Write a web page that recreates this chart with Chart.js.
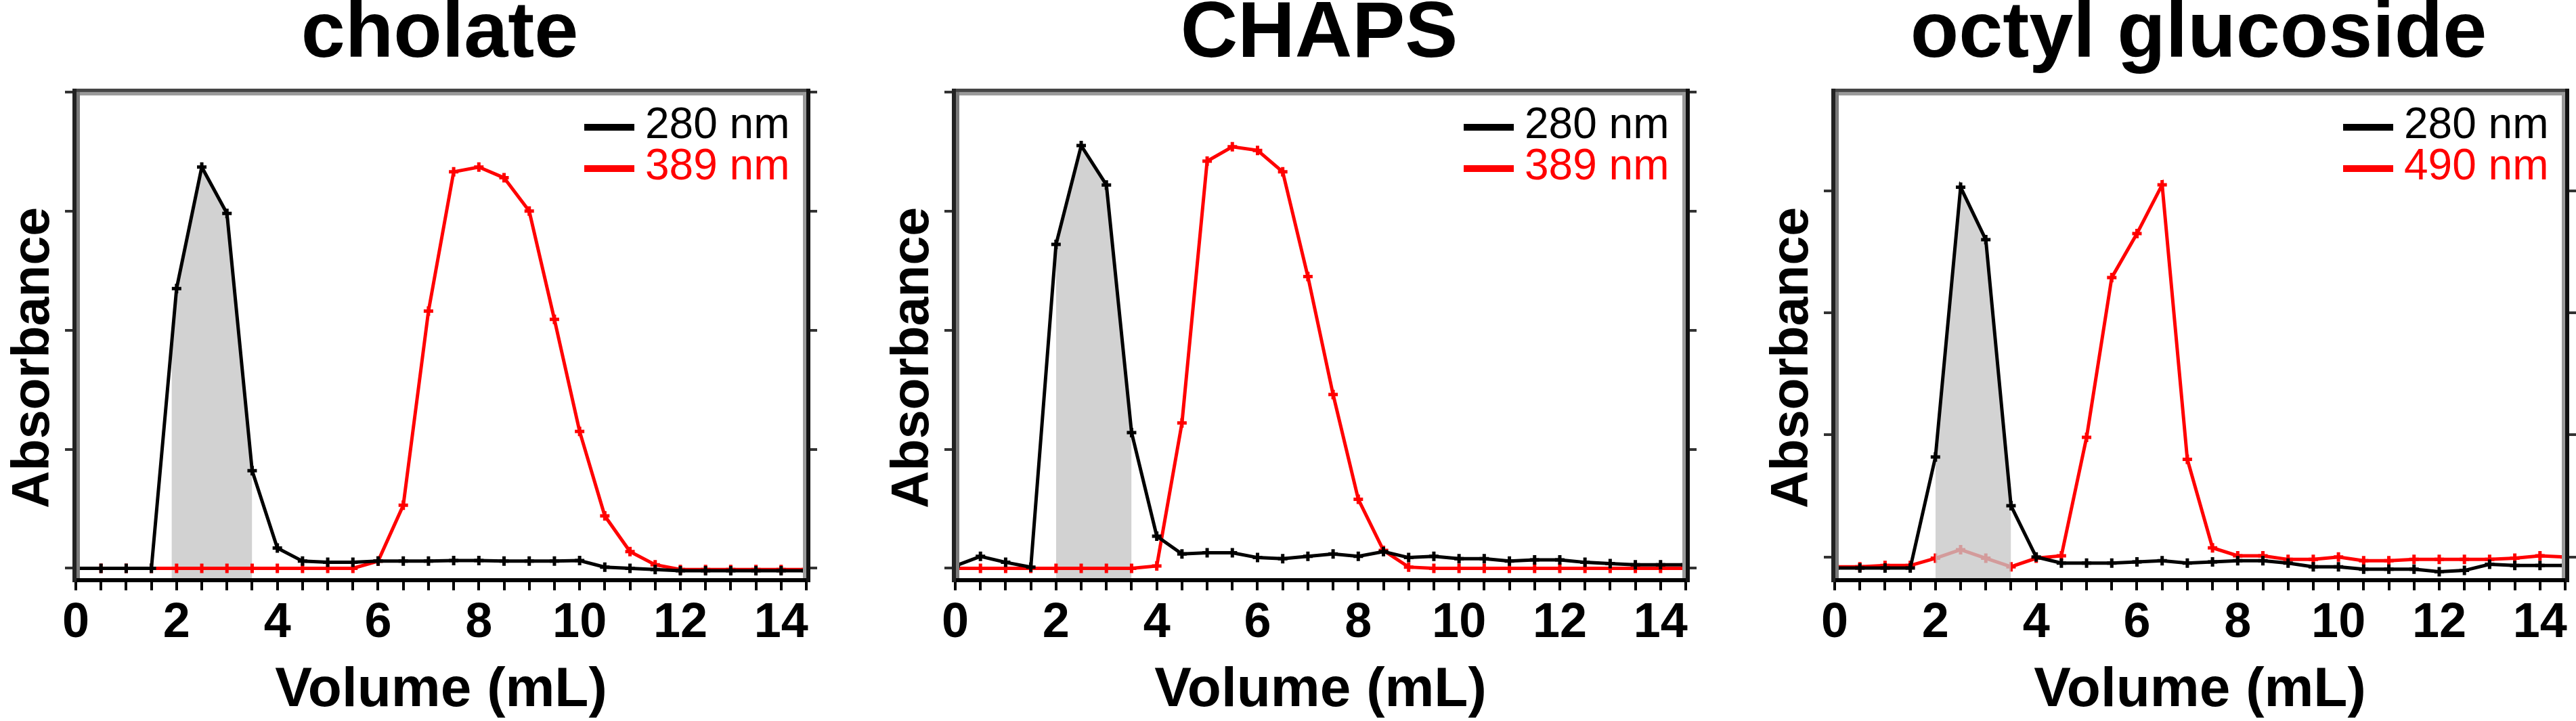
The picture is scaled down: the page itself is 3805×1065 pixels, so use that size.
<!DOCTYPE html>
<html><head><meta charset="utf-8"><title>Absorbance vs elution volume</title>
<script src="https://cdn.jsdelivr.net/npm/chart.js@4.4.1/dist/chart.umd.min.js"></script>
<style>
html,body{margin:0;padding:0;background:#fff}
body{position:relative;width:3805px;height:1065px;overflow:hidden}
.panel{position:absolute;top:0;width:1299px;height:1065px}
canvas{display:block}
</style></head><body>
<div class="panel" style="left:0px"><canvas id="p0" width="1299" height="1065"></canvas></div>
<div class="panel" style="left:1299px"><canvas id="p1" width="1299" height="1065"></canvas></div>
<div class="panel" style="left:2598px"><canvas id="p2" width="1299" height="1065"></canvas></div>
<script>
// ---------- data ----------
const volume = [0,0.5,1,1.5,2,2.5,3,3.5,4,4.5,5,5.5,6,6.5,7,7.5,8,8.5,9,9.5,10,10.5,11,11.5,12,12.5,13,13.5,14,14.5];
const panelTitles = ['cholate', 'CHAPS', 'octyl glucoside'];
const label280 = '280 nm';
const secondLabels = ['389 nm', '389 nm', '490 nm'];
const xTitle = 'Volume (mL)';
const yTitle = 'Absorbance';
const xTickValues = [0,2,4,6,8,10,12,14];
const xTickLabels = ['0','2','4','6','8','10','12','14'];
const xMax = 14.5;
const yMin = [-0.1, -0.1, -0.19];
const yMax = [4.0, 4.0, 3.81];
const yTickValues = [[0,1,2,3,4],[0,1,2,3,4],[0,1,2,3]];
const shadeStart = [1.9, 2.0, 2.0];
const shadeEnd = [3.5, 3.5, 3.5];

const cholate280 = [0,0,0,0,2.35,3.37,2.98,0.82,0.17,0.06,0.05,0.05,0.06,0.06,0.06,0.065,0.065,0.06,0.06,0.06,0.065,0.01,0,-0.01,-0.02,-0.02,-0.02,-0.02,-0.02,-0.02];
const cholate389 = [0,0,0,0,0,0,0,0,0,0,0,0,0.06,0.53,2.16,3.33,3.37,3.28,3.0,2.09,1.15,0.44,0.14,0.03,-0.01,-0.01,-0.01,-0.01,-0.01,-0.01];
const chaps280 = [0.02,0.1,0.05,0.01,2.72,3.55,3.22,1.14,0.27,0.12,0.13,0.13,0.09,0.08,0.1,0.12,0.1,0.14,0.09,0.1,0.08,0.08,0.06,0.07,0.07,0.05,0.04,0.03,0.03,0.03];
const chaps389 = [0,0,0,0,0,0,0,0,0.02,1.22,3.42,3.54,3.51,3.33,2.45,1.46,0.58,0.15,0.01,0,0,0,0,0,0,0,0,0,0,0];
const octyl280 = [-0.09,-0.09,-0.09,-0.09,0.82,3.03,2.60,0.42,0.0,-0.05,-0.05,-0.05,-0.04,-0.03,-0.05,-0.04,-0.03,-0.03,-0.05,-0.08,-0.08,-0.1,-0.1,-0.1,-0.12,-0.11,-0.06,-0.07,-0.07,-0.07];
const octyl490 = [-0.08,-0.08,-0.07,-0.07,-0.01,0.06,-0.01,-0.08,-0.01,0.01,0.98,2.29,2.65,3.05,0.80,0.075,0.01,0.01,-0.02,-0.02,0,-0.03,-0.03,-0.02,-0.02,-0.02,-0.02,-0.01,0.01,0];

const series280 = [cholate280, chaps280, octyl280];
const seriesSecond = [cholate389, chaps389, octyl490];

// ---------- helpers ----------
const FONT = '"Liberation Sans", Arial, Helvetica, sans-serif';

function valueAt(xs, ys, x) {
  for (let k = 0; k < xs.length - 1; k++) {
    if (x >= xs[k] && x <= xs[k + 1]) {
      const t = (x - xs[k]) / (xs[k + 1] - xs[k]);
      return ys[k] + t * (ys[k + 1] - ys[k]);
    }
  }
  return ys[ys.length - 1];
}
function shadeSeries(xs, ys, from, to) {
  const pts = [{x: from, y: valueAt(xs, ys, from)}];
  xs.forEach((x, k) => { if (x > from && x < to) pts.push({x: x, y: ys[k]}); });
  pts.push({x: to, y: valueAt(xs, ys, to)});
  return pts;
}
const toPoints = ys => volume.map((v, k) => ({x: v, y: ys[k]}));

const framePlugin = {
  id: 'frameBox',
  afterDatasetsDraw(chart) {
    const {ctx, chartArea: {left, right, top, bottom}} = chart;
    ctx.save();
    ctx.fillStyle = '#000';
    ctx.fillRect(left - 5, bottom - 3, right - left + 10, 6);
    ctx.fillStyle = '#454545';
    ctx.fillRect(left - 5, top - 5, right - left + 10, 5);
    ctx.fillStyle = '#9a9a9a';
    ctx.fillRect(left, top, right - left, 5);
    ctx.fillStyle = '#7a7a7a';
    ctx.fillRect(left + 1, top, 5, bottom - top - 3);
    ctx.fillStyle = '#9a9a9a';
    ctx.fillRect(right - 5, top, 5, bottom - top - 3);
    ctx.fillStyle = '#222';
    ctx.fillRect(left - 5, top - 5, 6, bottom - top + 8);
    ctx.fillStyle = '#111';
    ctx.fillRect(right, top - 5, 6, bottom - top + 8);
    ctx.restore();
  }
};

// vertical axis title, drawn a little below the plot's mid-height as in the original figure
const yTitlePlugin = {
  id: 'yAxisTitle',
  afterDraw(chart) {
    const {ctx, chartArea: {top, bottom}} = chart;
    const opts = chart.options.plugins.yAxisTitle;
    ctx.save();
    ctx.translate(opts.x, (top + bottom) / 2 + opts.shift);
    ctx.rotate(-Math.PI / 2);
    ctx.font = 'bold ' + opts.size + 'px ' + FONT;
    ctx.fillStyle = '#000';
    ctx.textAlign = 'center';
    ctx.textBaseline = 'alphabetic';
    ctx.fillText(opts.text, 0, 0);
    ctx.restore();
  }
};

const keyPlugin = {
  id: 'seriesKey',
  afterDraw(chart) {
    const {ctx, chartArea: {right, top}} = chart;
    const items = chart.data.datasets.filter(d => d.inKey);
    ctx.save();
    items.forEach((d, i) => {
      const y = top + 52 + i * 61;
      ctx.strokeStyle = d.borderColor;
      ctx.lineWidth = 10;
      ctx.beginPath();
      ctx.moveTo(right - 328, y);
      ctx.lineTo(right - 254, y);
      ctx.stroke();
      ctx.fillStyle = d.borderColor;
      ctx.font = '64px ' + FONT;
      ctx.textAlign = 'left';
      ctx.textBaseline = 'alphabetic';
      ctx.fillText(d.label, right - 238, y + 16);
    });
    ctx.restore();
  }
};

function makePanel(i) {
  const fillOnTopOfRed = (i === 2);
  const datasets = [
    {
      label: label280, inKey: true, data: toPoints(series280[i]),
      borderColor: '#000000', backgroundColor: '#000000', borderWidth: 5,
      pointStyle: 'cross', pointRadius: 7, pointBorderWidth: 5, pointBorderColor: '#000000',
      fill: false, tension: 0, order: 1
    },
    {
      label: secondLabels[i], inKey: true, data: toPoints(seriesSecond[i]),
      borderColor: '#ff0000', backgroundColor: '#ff0000', borderWidth: 5,
      pointStyle: 'cross', pointRadius: 7, pointBorderWidth: 5, pointBorderColor: '#ff0000',
      fill: false, tension: 0, order: fillOnTopOfRed ? 4 : 2
    },
    {
      label: 'shaded fraction', inKey: false,
      data: shadeSeries(volume, series280[i], shadeStart[i], shadeEnd[i]),
      borderWidth: 0, borderColor: 'rgba(0,0,0,0)', pointRadius: 0,
      backgroundColor: fillOnTopOfRed ? 'rgba(198,198,198,0.78)' : '#d2d2d2',
      fill: 'start', tension: 0, order: 3
    }
  ];
  const yCommon = {
    type: 'linear', min: yMin[i], max: yMax[i],
    afterBuildTicks: s => { s.ticks = yTickValues[i].map(v => ({value: v})); },
    ticks: {display: false},
    grid: {drawOnChartArea: false, drawTicks: true, tickLength: 16, lineWidth: 4, color: '#333'},
    border: {display: false}
  };
  return new Chart(document.getElementById('p' + i), {
    type: 'line',
    data: {datasets: datasets},
    options: {
      responsive: false, animation: false, events: [],
      layout: {padding: 0},
      plugins: {
        legend: {display: false},
        tooltip: {enabled: false},
        title: {
          display: true, text: panelTitles[i], color: '#000',
          font: {family: FONT, size: 117, weight: 'bold', lineHeight: 0.88},
          padding: {top: 0, bottom: 33}
        },
        yAxisTitle: {text: yTitle, size: 77, x: 72, shift: 32}
      },
      scales: {
        x: {
          type: 'linear', position: 'bottom', min: 0, max: xMax,
          afterBuildTicks: s => { s.ticks = volume.map(v => ({value: v})); },
          afterFit: s => { s.height = 208; },
          ticks: {
            autoSkip: false, maxRotation: 0, minRotation: 0, padding: 6, color: '#000',
            font: {family: FONT, size: 72, weight: 'bold'},
            callback: v => { const k = xTickValues.indexOf(v); return k >= 0 ? xTickLabels[k] : ''; }
          },
          grid: {drawOnChartArea: false, drawTicks: true, tickLength: 15, lineWidth: 4, color: '#000'},
          border: {display: true, width: 6, color: '#000'},
          title: {
            display: true, text: xTitle, color: '#000',
            font: {family: FONT, size: 82, weight: 'bold', lineHeight: 1.1},
            padding: {top: 0, bottom: 0}
          }
        },
        y: Object.assign({}, yCommon, {
          position: 'left',
          afterFit: s => { s.width = 112; },
          title: {display: false, text: yTitle}
        }),
        y2: Object.assign({}, yCommon, {
          position: 'right',
          afterFit: s => { s.width = 108; }
        })
      }
    },
    plugins: [framePlugin, keyPlugin, yTitlePlugin]
  });
}
[0, 1, 2].forEach(makePanel);
</script>
</body></html>
